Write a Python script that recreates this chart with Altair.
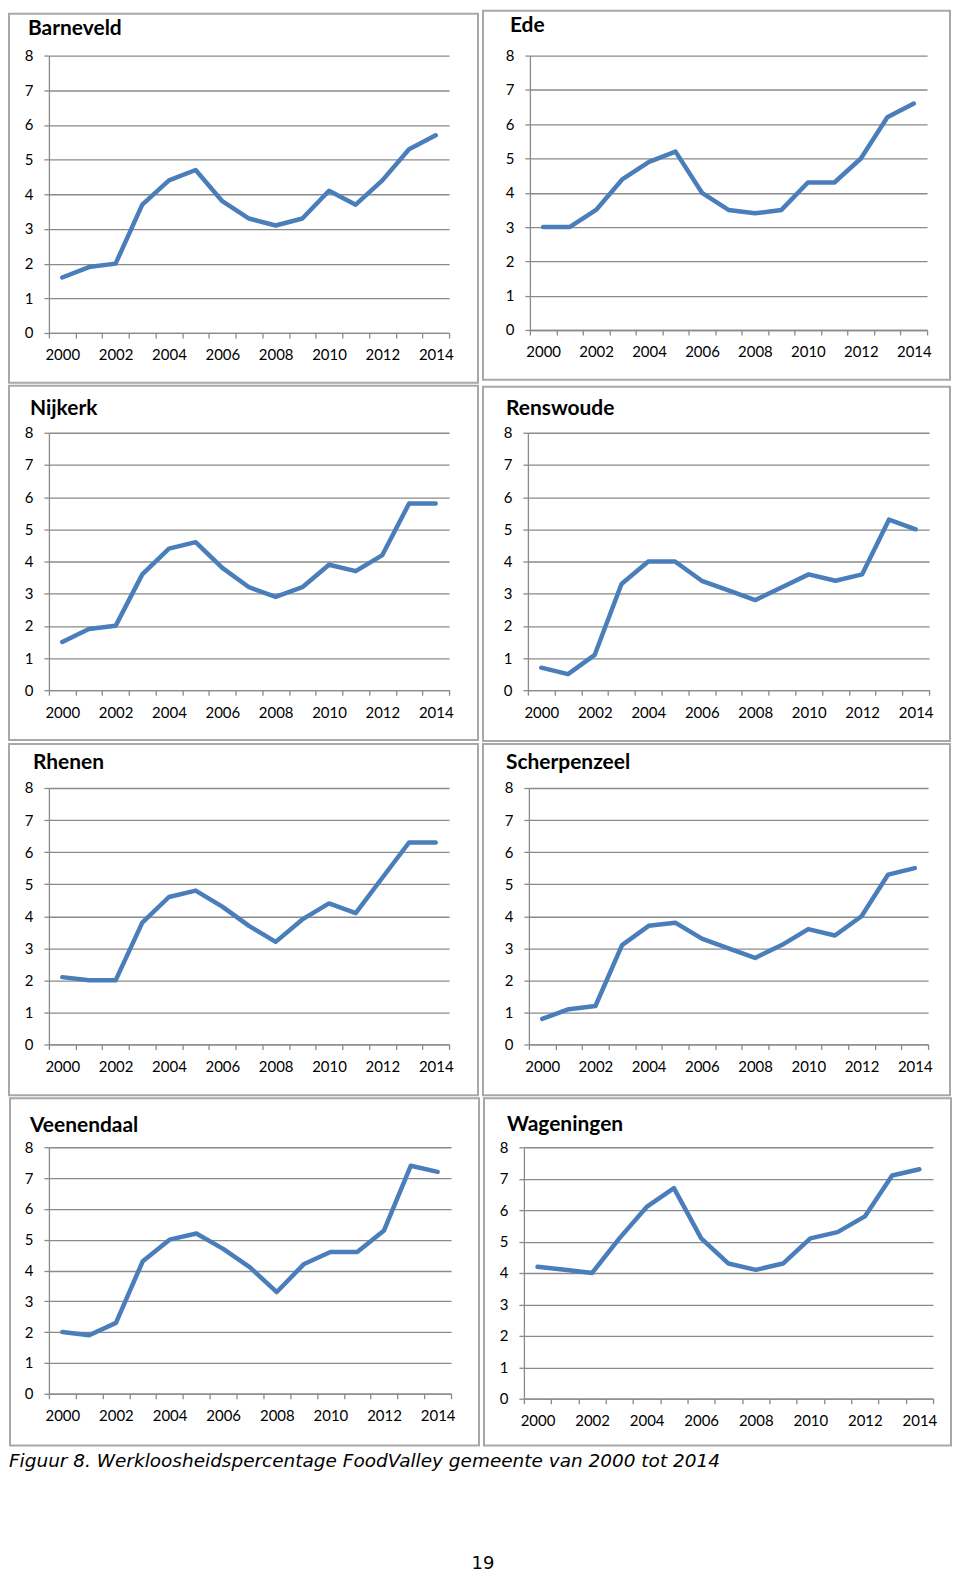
import altair as alt
import pandas as pd

years = list(range(2000, 2015))
gemeenten = ["Barneveld", "Ede", "Nijkerk", "Renswoude", "Rhenen", "Scherpenzeel", "Veenendaal", "Wageningen"]
barneveld = [1.6, 1.9, 2.0, 3.7, 4.4, 4.7, 3.8, 3.3, 3.1, 3.3, 4.1, 3.7, 4.4, 5.3, 5.7]
ede = [3.0, 3.0, 3.5, 4.4, 4.9, 5.2, 4.0, 3.5, 3.4, 3.5, 4.3, 4.3, 5.0, 6.2, 6.6]
nijkerk = [1.5, 1.9, 2.0, 3.6, 4.4, 4.6, 3.8, 3.2, 2.9, 3.2, 3.9, 3.7, 4.2, 5.8, 5.8]
renswoude = [0.7, 0.5, 1.1, 3.3, 4.0, 4.0, 3.4, 3.1, 2.8, 3.2, 3.6, 3.4, 3.6, 5.3, 5.0]
rhenen = [2.1, 2.0, 2.0, 3.8, 4.6, 4.8, 4.3, 3.7, 3.2, 3.9, 4.4, 4.1, 5.2, 6.3, 6.3]
scherpenzeel = [0.8, 1.1, 1.2, 3.1, 3.7, 3.8, 3.3, 3.0, 2.7, 3.1, 3.6, 3.4, 4.0, 5.3, 5.5]
veenendaal = [2.0, 1.9, 2.3, 4.3, 5.0, 5.2, 4.7, 4.1, 3.3, 4.2, 4.6, 4.6, 5.3, 7.4, 7.2]
wageningen = [4.2, 4.1, 4.0, 5.1, 6.1, 6.7, 5.1, 4.3, 4.1, 4.3, 5.1, 5.3, 5.8, 7.1, 7.3]
y_ticks = [0, 1, 2, 3, 4, 5, 6, 7, 8]
caption = "Figuur 8. Werkloosheidspercentage FoodValley gemeente van 2000 tot 2014"
page_number = "19"

series = [barneveld, ede, nijkerk, renswoude, rhenen, scherpenzeel, veenendaal, wageningen]
rows = []
for name, vals in zip(gemeenten, series):
    for yr, v in zip(years, vals):
        rows.append({"gemeente": name, "jaar": yr, "waarde": v})
df = pd.DataFrame(rows)

# layout (pixels): plot width/height, frame offsets, title offsets
layout = {
    "Barneveld":    dict(w=401, h=278, fl=40, fr=29, ft=42, fb=50, tx=21, ty=21),
    "Ede":          dict(w=398, h=275, fl=47, fr=23, ft=45, fb=50, tx=20, ty=24),
    "Nijkerk":      dict(w=401, h=258, fl=40, fr=29, ft=47, fb=50, tx=19, ty=18),
    "Renswoude":    dict(w=402, h=258, fl=45, fr=21, ft=46, fb=51, tx=22, ty=18),
    "Rhenen":       dict(w=401, h=257, fl=40, fr=29, ft=44, fb=51, tx=16, ty=19),
    "Scherpenzeel": dict(w=400, h=257, fl=46, fr=22, ft=44, fb=51, tx=23, ty=19),
    "Veenendaal":   dict(w=403, h=247, fl=39, fr=28, ft=49, fb=52, tx=19, ty=15),
    "Wageningen":   dict(w=410, h=252, fl=40, fr=18, ft=49, fb=47, tx=17, ty=16),
}

GRAY = "#8a8a8a"
BLUE = "#4a7ebb"
FONT = "Lato"

tick_edges = [y - 0.5 for y in years] + [years[-1] + 0.5]


def panel(name):
    L = layout[name]
    w, h = L["w"], L["h"]
    base = alt.Chart(df).transform_filter(alt.datum.gemeente == name)
    first = base.transform_filter(alt.datum.jaar == years[0])

    frame = first.mark_rect(fillOpacity=0, stroke="#a8a8a8", strokeWidth=2).encode(
        x=alt.value(-L["fl"]), x2=alt.value(w + L["fr"]),
        y=alt.value(-L["ft"]), y2=alt.value(h + L["fb"]),
    )
    title = first.mark_text(
        align="left", baseline="alphabetic", font=FONT, fontWeight="bold",
        fontSize=21, color="black",
    ).encode(text="gemeente:N", x=alt.value(-L["tx"]), y=alt.value(-L["ty"]))

    line = base.mark_line(color=BLUE, strokeWidth=4.5, strokeJoin="round", strokeCap="round").encode(
        x=alt.X(
            "jaar:Q",
            scale=alt.Scale(domain=[tick_edges[0], tick_edges[-1]], nice=False, zero=False),
            axis=alt.Axis(
                title=None, values=tick_edges, grid=False,
                labelExpr="((datum.value + 0.5) % 2 == 0 && datum.value < 2014) ? format(datum.value + 0.5, 'd') : ''",
                labelOffset=w / 15 / 2, labelFlush=False, labelOverlap=False,
                labelFont=FONT, labelFontSize=15, labelColor="black", labelPadding=10,
                tickSize=5, tickColor=GRAY, tickWidth=1.3,
                domainColor=GRAY, domainWidth=1.3,
            ),
        ),
        y=alt.Y(
            "waarde:Q",
            scale=alt.Scale(domain=[0, 8], nice=False),
            axis=alt.Axis(
                title=None, values=y_ticks, grid=True, gridColor=GRAY, gridWidth=1.3,
                labelFont=FONT, labelFontSize=15, labelColor="black", labelPadding=11,
                tickSize=5, tickColor=GRAY, tickWidth=1.3,
                domainColor=GRAY, domainWidth=1.3,
            ),
        ),
    )
    return alt.layer(frame, line, title).properties(width=w, height=h)


grid_rows = []
for i in range(0, len(gemeenten), 2):
    grid_rows.append(alt.hconcat(panel(gemeenten[i]), panel(gemeenten[i + 1]), spacing=3))

cap_df = pd.DataFrame({"t": [caption]})
pn_df = pd.DataFrame({"t": [page_number]})
cap = alt.Chart(cap_df).mark_text(
    align="left", baseline="alphabetic", font="DejaVu Sans", fontStyle="italic",
    fontSize=18.5, color="black",
).encode(text="t:N", x=alt.value(-40), y=alt.value(19))
pn = alt.Chart(pn_df).mark_text(
    align="center", baseline="alphabetic", font="DejaVu Sans", fontSize=18, color="black",
).encode(text="t:N", x=alt.value(435), y=alt.value(122))
footer = alt.layer(cap, pn).properties(width=100, height=122)

chart = alt.vconcat(*grid_rows, footer, spacing=1).properties(padding=0).configure_view(strokeWidth=0)

chart.save("out.html", embed_options={"renderer": "svg", "actions": False})
